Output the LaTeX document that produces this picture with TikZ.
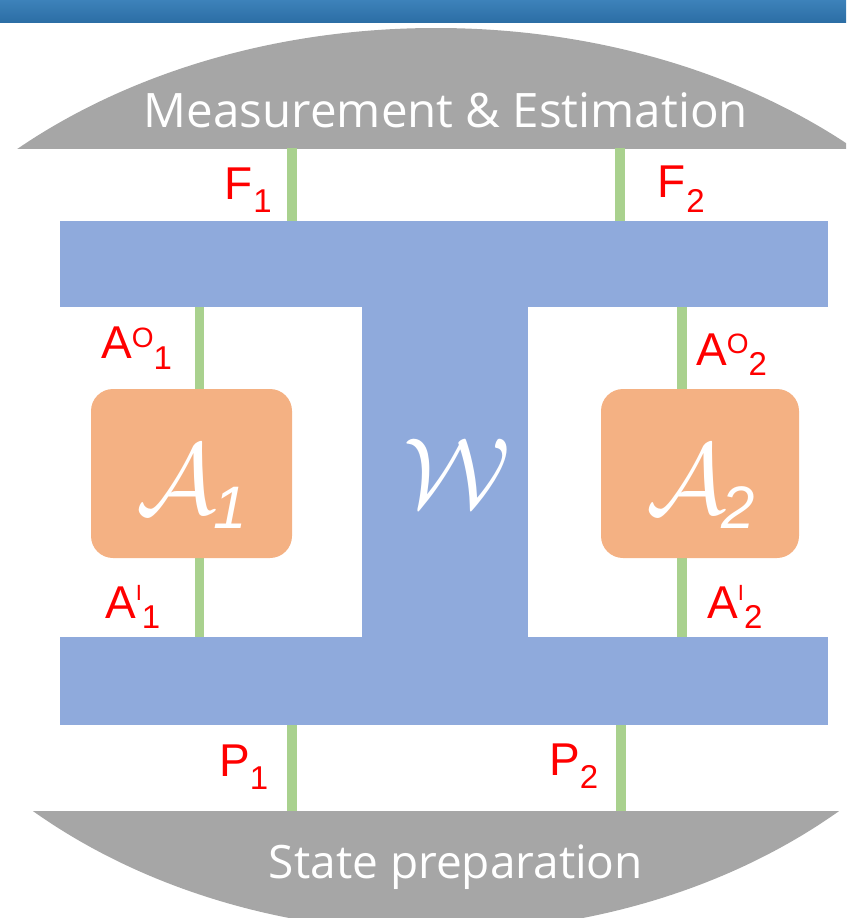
\documentclass[tikz,border=0pt]{standalone}
\usepackage{graphicx}
\usepackage{fontspec}
\setmainfont{Liberation Sans}
\newfontfamily\grayfont{Open Sans}
\definecolor{barblue}{HTML}{8FAADC}
\definecolor{wiregreen}{HTML}{A9D18E}
\definecolor{agentorange}{HTML}{F4B183}
\definecolor{domegray}{HTML}{A6A6A6}
\definecolor{bandtop}{HTML}{3D82BA}
\definecolor{bandbot}{HTML}{2C6EA5}
\definecolor{labred}{HTML}{FF0000}
\begin{document}
\begin{tikzpicture}[x=1pt,y=-1pt,
  bar/.style={fill=barblue, draw=none, inner sep=0pt},
  wire/.style={draw=wiregreen, line width=9.5pt},
  agent/.style={fill=agentorange, draw=none, rounded corners=22pt, inner sep=0pt, minimum width=200pt, minimum height=169pt},
  lbl/.style={text=labred, anchor=base west, inner sep=0pt, font=\fontsize{46}{46}\selectfont},
  graylab/.style={text=white, anchor=base, inner sep=0pt, font=\grayfont\fontsize{46}{46}\selectfont},
  mathlab/.style={text=white, anchor=base west, inner sep=0pt}]
\useasboundingbox (0,0) rectangle (846,918);
% top band
\shade[top color=bandtop, bottom color=bandbot] (0,0) rectangle (846,22);
% domes
\begin{scope}
  \clip (0,0) rectangle (846,148);
  \fill[domegray] (436,480) ellipse [x radius=615pt, y radius=452pt];
\end{scope}
\begin{scope}
  \clip (0,811) rectangle (846,918);
  \fill[domegray] (436,480) ellipse [x radius=592pt, y radius=452pt];
\end{scope}
\coordinate (domeT1) at (292,148);
\coordinate (domeT2) at (620,148);
\coordinate (domeB1) at (292,811);
\coordinate (domeB2) at (621,811);
% bars
\node[bar, minimum width=768pt, minimum height=86pt] (topbar) at (444,264) {};
\node[bar, minimum width=768pt, minimum height=88pt] (botbar) at (444,681) {};
\node[bar, minimum width=166pt, minimum height=332pt] (stem) at (445,472) {};
% wires
\draw[wire] (domeT1) -- (domeT1 |- topbar.north);
\draw[wire] (domeT2) -- (domeT2 |- topbar.north);
\draw[wire] (domeB1) -- (domeB1 |- botbar.south);
\draw[wire] (domeB2) -- (domeB2 |- botbar.south);
\coordinate (w1) at (199.5,300);
\coordinate (w2) at (682,300);
\draw[wire] (w1 |- topbar.south) -- (w1 |- botbar.north);
\draw[wire] (w2 |- topbar.south) -- (w2 |- botbar.north);
% agents
\node[agent, minimum width=201pt] (agent1) at (191.5,473.5) {};
\node[agent, minimum width=198pt] (agent2) at (700,473.5) {};
% math labels
\node[mathlab] (a1) at (136,513) {\scalebox{10}{$\mathcal{A}$}};
\node[mathlab] (a1s) at (213,528) {\scalebox{6}{$\mathit{1}$}};
\node[mathlab] (a2) at (646,513) {\scalebox{10}{$\mathcal{A}$}};
\node[mathlab] (a2s) at (721,528) {\scalebox{6}{$\mathit{2}$}};
\node[text=white, inner sep=0pt] (wlab) at (457,473) {\scalebox{10}{$\mathcal{W}$}};
% gray labels
\node[graylab, font=\grayfont\fontsize{47.5}{47.5}\selectfont] (meas) at (446,127) {Measurement \& Estimation};
\node[graylab] (prep) at (456,878) {State preparation};
% red labels
\node[lbl] (F1) at (224,199) {F\kern1pt\raisebox{-13pt}{\fontsize{33}{33}\selectfont 1}};
\node[lbl] (F2) at (657,197) {F\kern1pt\raisebox{-15pt}{\fontsize{33}{33}\selectfont 2}};
\node[lbl] (P1) at (219,776) {P\raisebox{-13pt}{\fontsize{33}{33}\selectfont 1}};
\node[lbl] (P2) at (549,775) {P\raisebox{-13pt}{\fontsize{33}{33}\selectfont 2}};
\node[lbl] (AO1) at (101,358) {A\raisebox{11pt}{\fontsize{28}{28}\selectfont O}\raisebox{-11pt}{\fontsize{33}{33}\selectfont 1}};
\node[lbl] (AO2) at (696,365) {A\raisebox{12pt}{\fontsize{28}{28}\selectfont O}\raisebox{-10pt}{\fontsize{33}{33}\selectfont 2}};
\node[lbl] (AI1) at (105,618) {A\raisebox{18pt}{\fontsize{22}{22}\selectfont I}\raisebox{-10pt}{\fontsize{33}{33}\selectfont 1}};
\node[lbl] (AI2) at (707,618) {A\raisebox{18pt}{\fontsize{22}{22}\selectfont I}\raisebox{-10pt}{\fontsize{33}{33}\selectfont 2}};
\end{tikzpicture}
\end{document}
